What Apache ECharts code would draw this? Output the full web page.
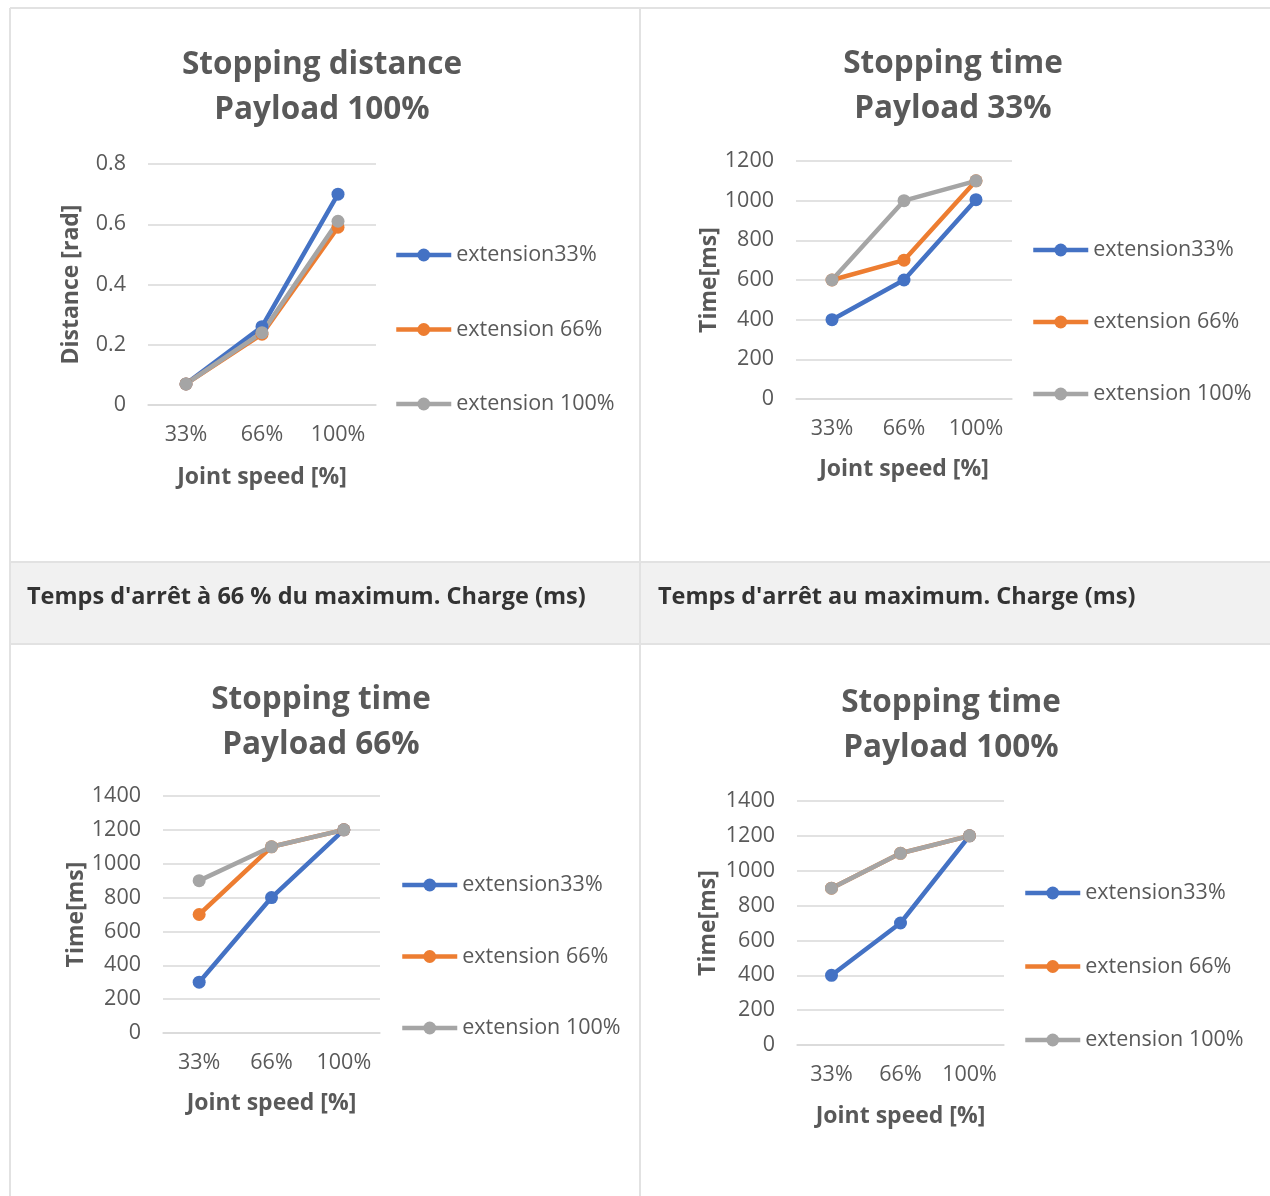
<!DOCTYPE html>
<html>
<head>
<meta charset="utf-8">
<script src="https://cdn.jsdelivr.net/npm/echarts@6/dist/echarts.min.js"></script>
<style>
html,body{margin:0;padding:0;background:#fff;}
#c{width:1270px;height:1196px;}
</style>
</head>
<body>
<div id="c"></div>
<script>
// ---- data ----
const categories = ['33%', '66%', '100%'];
const seriesNames = ['extension33%', 'extension 66%', 'extension 100%'];
const seriesColors = ['#4472C4', '#ED7D31', '#A5A5A5'];

const titles = [
  ['Stopping distance', 'Payload 100%'],
  ['Stopping time', 'Payload 33%'],
  ['Stopping time', 'Payload 66%'],
  ['Stopping time', 'Payload 100%']
];
const yNames = ['Distance [rad]', 'Time[ms]', 'Time[ms]', 'Time[ms]'];
const xName = 'Joint speed [%]';
const yMax = [0.8, 1200, 1400, 1400];
const yStep = [0.2, 200, 200, 200];

// chart 1: stopping distance, payload 100%
const dist100_ext33 = [0.07, 0.26, 0.70];
const dist100_ext66 = [0.07, 0.235, 0.59];
const dist100_ext100 = [0.07, 0.24, 0.61];
// chart 2: stopping time, payload 33%
const time33_ext33 = [400, 600, 1005];
const time33_ext66 = [600, 700, 1100];
const time33_ext100 = [600, 1000, 1100];
// chart 3: stopping time, payload 66%
const time66_ext33 = [300, 800, 1200];
const time66_ext66 = [700, 1100, 1200];
const time66_ext100 = [900, 1100, 1200];
// chart 4: stopping time, payload 100%
const time100_ext33 = [400, 700, 1200];
const time100_ext66 = [900, 1100, 1200];
const time100_ext100 = [900, 1100, 1200];

const headerTexts = ["Temps d'arrêt à 66 % du maximum. Charge (ms)", "Temps d'arrêt au maximum. Charge (ms)"];

const chartData = [
  [dist100_ext33, dist100_ext66, dist100_ext100],
  [time33_ext33, time33_ext66, time33_ext100],
  [time66_ext33, time66_ext66, time66_ext100],
  [time100_ext33, time100_ext66, time100_ext100]
];

// ---- layout ----
const FONT = 'Open Sans';
const TXT = '#595959';
const layouts = [
  {grid: {left: 148, top: 164, width: 228, height: 241}, title: {x: 322, y: 43}, legend: {left: 394, top: 244, gap: 52.5}, yGap: 65, xGap: 61},
  {grid: {left: 796, top: 161, width: 216, height: 238}, title: {x: 953, y: 42}, legend: {left: 1031, top: 239, gap: 50}, yGap: 71, xGap: 59},
  {grid: {left: 163, top: 796, width: 217, height: 237}, title: {x: 321, y: 678}, legend: {left: 400, top: 874, gap: 49.5}, yGap: 75, xGap: 59},
  {grid: {left: 797, top: 801, width: 207, height: 244}, title: {x: 951, y: 681}, legend: {left: 1023, top: 882, gap: 51.5}, yGap: 77, xGap: 60}
];

const grids = [], xAxes = [], yAxes = [], series = [], legends = [], titleComps = [];
layouts.forEach((L, i) => {
  grids.push(Object.assign({containLabel: false}, L.grid));
  xAxes.push({
    type: 'category', gridIndex: i, data: categories, boundaryGap: true,
    axisLine: {show: true, lineStyle: {color: '#D9D9D9', width: 1.5}},
    axisTick: {show: false},
    axisLabel: {color: TXT, fontFamily: FONT, fontSize: 21.5, margin: 19, interval: 0, hideOverlap: false},
    name: xName, nameLocation: 'middle', nameGap: L.xGap,
    nameTextStyle: {color: TXT, fontFamily: FONT, fontSize: 23, fontWeight: 'bold'}
  });
  yAxes.push({
    type: 'value', gridIndex: i, min: 0, max: yMax[i], interval: yStep[i],
    axisLine: {show: false}, axisTick: {show: false},
    splitLine: {lineStyle: {color: '#D9D9D9', width: 1.5}},
    axisLabel: {color: TXT, fontFamily: FONT, fontSize: 21.5, margin: 22, formatter: v => String(v)},
    name: yNames[i], nameLocation: 'middle', nameGap: L.yGap, nameRotate: 90,
    nameTextStyle: {color: TXT, fontFamily: FONT, fontSize: 23, fontWeight: 'bold'}
  });
  chartData[i].forEach((d, k) => {
    series.push({
      type: 'line', name: seriesNames[k], xAxisIndex: i, yAxisIndex: i, data: d,
      symbol: 'circle', symbolSize: 13, showAllSymbol: true,
      color: seriesColors[k],
      lineStyle: {width: 4.5, color: seriesColors[k]},
      itemStyle: {color: seriesColors[k]},
      emphasis: {disabled: true}, animation: false
    });
  });
  legends.push({
    orient: 'vertical', left: L.legend.left, top: L.legend.top, padding: 0,
    itemGap: L.legend.gap, itemWidth: 55, itemHeight: 16,
    lineStyle: {width: 4.5},
    data: seriesNames,
    textStyle: {color: TXT, fontFamily: FONT, fontSize: 21.5, lineHeight: 22}
  });
  titleComps.push({
    text: titles[i].join('\n'), left: L.title.x, top: L.title.y, textAlign: 'center', padding: 0,
    textStyle: {color: TXT, fontFamily: FONT, fontSize: 31.5, fontWeight: 'bold', lineHeight: 45}
  });
});

const border = '#E2E2E2';
const graphics = [
  {type: 'rect', shape: {x: 10, y: 562, width: 1262, height: 82}, style: {fill: '#F1F1F1'}, z: -10},
  {type: 'line', shape: {x1: 10, y1: 8, x2: 1270, y2: 8}, style: {stroke: border, lineWidth: 2}},
  {type: 'line', shape: {x1: 10, y1: 8, x2: 10, y2: 1196}, style: {stroke: border, lineWidth: 2}},
  {type: 'line', shape: {x1: 640, y1: 8, x2: 640, y2: 1196}, style: {stroke: border, lineWidth: 2}},
  {type: 'line', shape: {x1: 10, y1: 562, x2: 1270, y2: 562}, style: {stroke: border, lineWidth: 2}},
  {type: 'line', shape: {x1: 10, y1: 644, x2: 1270, y2: 644}, style: {stroke: border, lineWidth: 2}},
  {type: 'text', x: 27, y: 597, style: {text: headerTexts[0], fill: '#333', font: 'bold 23.5px "Open Sans"', textVerticalAlign: 'middle'}},
  {type: 'text', x: 658, y: 597, style: {text: headerTexts[1], fill: '#333', font: 'bold 23.5px "Open Sans"', textVerticalAlign: 'middle'}}
];

const chart = echarts.init(document.getElementById('c'));
chart.setOption({
  animation: false,
  backgroundColor: '#fff',
  title: titleComps,
  grid: grids, xAxis: xAxes, yAxis: yAxes, legend: legends, series: series,
  graphic: graphics
});
</script>
</body>
</html>
